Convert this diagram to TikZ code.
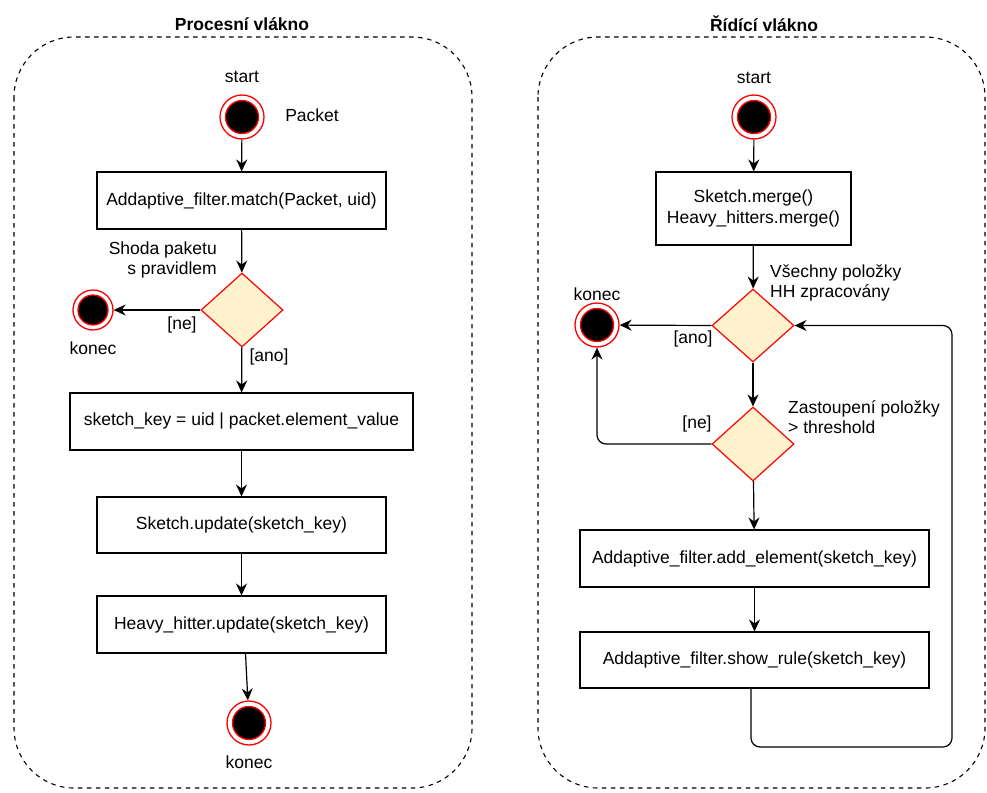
\documentclass[tikz,border=0pt]{standalone}
\usepackage{fontspec}
\setmainfont{Liberation Sans}
\usetikzlibrary{shapes.geometric,arrows.meta}
\definecolor{decfill}{HTML}{FFF2CC}
\begin{document}
\begin{tikzpicture}[x=1pt,y=-1pt,
  font=\fontsize{17.5}{20.5}\selectfont,
  lane/.style={draw=black, line width=1.1pt, dash pattern=on 4.5pt off 4.5pt, rounded corners=60pt},
  lanetitle/.style={font=\fontsize{17.5}{20.5}\selectfont\bfseries},
  action/.style={draw=black, fill=white, line width=1.1pt, inner sep=2pt, align=center},
  decision/.style={diamond, draw=red, fill=decfill, line width=1.2pt, inner sep=0pt},
  terminal/.style={circle, draw=red, fill=white, line width=1.3pt, inner sep=0pt,
    path picture={\fill[black, draw=red, line width=1.3pt] (path picture bounding box.center) circle (#1);}},
  terminal/.default=16.5pt,
  flow/.style={draw=black, line width=1.2pt, -{Stealth[length=12pt, width=11pt, inset=4pt]}},
  lbl/.style={inner sep=0pt}
]
\useasboundingbox (0,0) rectangle (987,792);

% swimlanes
\draw[lane] (14,37) rectangle (472,788);
\draw[lane] (538,37) rectangle (985,788);
\node[lanetitle] (titleL) at (242,24) {Procesní vlákno};
\node[lanetitle] (titleR) at (764,24) {Řídící vlákno};

% ---- processing thread ----
\node[lbl] (startLtxt) at (242,77) {start};
\node[terminal, minimum size=44pt] (startL) at (242,117) {};
\node[lbl] (packet) at (312,115) {Packet};
\node[action, minimum width=289pt, minimum height=57pt] (match) at (241.5,200.5) {Addaptive\_filter.match(Packet, uid)};
\node[decision, minimum width=82pt, minimum height=74pt] (decL) at (242,310) {};
\node[lbl, align=right, anchor=east] (shoda) at (217,260) {Shoda paketu\\s pravidlem};
\node[terminal=15pt, minimum size=40pt] (endL) at (93,310) {};
\node[lbl] (endLtxt) at (93,348) {konec};
\node[lbl] (neL) at (182,325) {[ne]};
\node[lbl] (anoL) at (269,357) {[ano]};
\node[action, minimum width=343pt, minimum height=57pt] (key) at (241.5,421.5) {sketch\_key = uid | packet.element\_value};
\node[action, minimum width=289pt, minimum height=56pt] (supd) at (241.5,525) {Sketch.update(sketch\_key)};
\node[action, minimum width=289pt, minimum height=57pt] (hupd) at (241.5,624.5) {Heavy\_hitter.update(sketch\_key)};
\node[terminal, minimum size=44pt] (endB) at (249,723) {};
\node[lbl] (endBtxt) at (249,762) {konec};

\draw[flow] (startL) -- (match);
\draw[flow] (match) -- (decL);
\draw[flow] (decL.west) -- (endL);
\draw[flow] (decL) -- (key);
\draw[flow] (key) -- (supd);
\draw[flow] (supd) -- (hupd);
\draw[flow] ([xshift=4pt]hupd.south) -- (endB);

% ---- control thread ----
\node[lbl] (startRtxt) at (754,78) {start};
\node[terminal, minimum size=44pt] (startR) at (754,117) {};
\node[action, minimum width=195pt, minimum height=73pt] (merge) at (753.5,208.5) {Sketch.merge()\\Heavy\_hitters.merge()};
\node[decision, minimum width=82pt, minimum height=73pt] (decA) at (753,325.5) {};
\node[lbl, align=left, anchor=west] (allhh) at (770,283) {Všechny položky\\HH zpracovány};
\node[terminal, minimum size=44pt] (endR) at (597,325) {};
\node[lbl] (endRtxt) at (597,294) {konec};
\node[lbl] (anoR) at (693,339) {[ano]};
\node[decision, minimum width=82pt, minimum height=74pt] (decB) at (753,444) {};
\node[lbl, align=left, anchor=west] (thr) at (788,417) {Zastoupení položky\\> threshold};
\node[lbl] (neR) at (697,424) {[ne]};
\node[action, minimum width=349pt, minimum height=57pt] (add) at (754.5,558.5) {Addaptive\_filter.add\_element(sketch\_key)};
\node[action, minimum width=349pt, minimum height=56pt] (show) at (754.5,660) {Addaptive\_filter.show\_rule(sketch\_key)};
\coordinate (loop) at (952,747);

\draw[flow] (startR) -- (merge);
\draw[flow] (merge) -- (decA);
\draw[flow] (decA.west) -- (endR);
\draw[flow] (decA) -- (decB);
\draw[flow, rounded corners=9pt] (decB.west) -| (endR.south);
\draw[flow] (decB) -- (add);
\draw[flow] (add) -- (show);
\draw[flow, rounded corners=9pt] ([xshift=-3.5pt]show.south) |- (loop) |- (decA.east);
\end{tikzpicture}
\end{document}
